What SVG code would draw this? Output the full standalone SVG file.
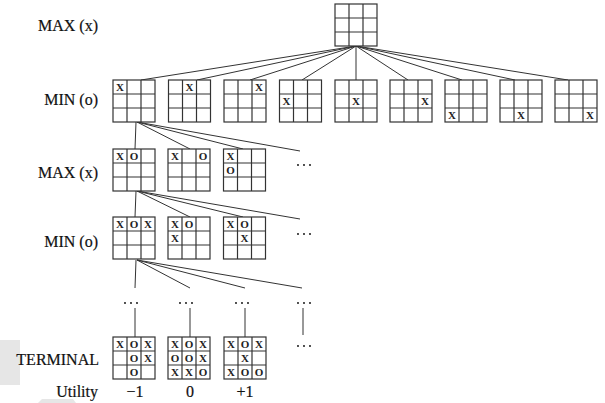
<svg xmlns="http://www.w3.org/2000/svg" xmlns:xlink="http://www.w3.org/1999/xlink" width="605" height="403" viewBox="0 0 605 403">
<style>
.lbl{font-family:"Liberation Serif","Times New Roman",serif;font-size:16px;fill:#111;stroke:#111;stroke-width:0.2;text-anchor:end}
.val{font-family:"Liberation Serif","Times New Roman",serif;font-size:16px;fill:#111;stroke:#111;stroke-width:0.2;text-anchor:middle}
.m{font-family:"Liberation Serif","Times New Roman",serif;font-size:11px;font-weight:bold;fill:#222;text-anchor:middle}
.dots circle{fill:#a8a8a8}
.c line{stroke:#333;stroke-width:1}
.g rect{fill:#fff;stroke:#333;stroke-width:1.2}
.g line{stroke:#333;stroke-width:1.2}
</style>
<defs>
<g id="grid" class="g">
<rect x="0" y="0" width="42" height="42"/>
<line x1="14" y1="0" x2="14" y2="42"/><line x1="28" y1="0" x2="28" y2="42"/>
<line x1="0" y1="14" x2="42" y2="14"/><line x1="0" y1="28" x2="42" y2="28"/>
</g>
<g id="d3"><circle cx="-6" cy="0" r="0.9"/><circle cx="0" cy="0" r="0.9"/><circle cx="6" cy="0" r="0.9"/></g>
</defs>
<rect width="605" height="403" fill="#fff"/>
<rect x="0" y="340" width="20" height="45" fill="#e6e6e6"/>
<polygon points="38,403 42,399 73,399 76,403" fill="#e6e6e6"/>
<g id="labels">
<text class="lbl" x="98" y="31">MAX (x)</text>
<text class="lbl" x="98" y="105">MIN (o)</text>
<text class="lbl" x="98" y="178">MAX (x)</text>
<text class="lbl" x="98" y="247">MIN (o)</text>
<text class="lbl" x="99" y="365">TERMINAL</text>
<text class="lbl" x="98" y="397">Utility</text>
<text class="val" x="135" y="397">−1</text>
<text class="val" x="190" y="397">0</text>
<text class="val" x="245" y="397">+1</text>
</g>
<g id="connectors" class="c">
<line x1="356" y1="46" x2="141" y2="80"/>
<line x1="356" y1="46" x2="197" y2="80"/>
<line x1="356" y1="46" x2="250" y2="80"/>
<line x1="356" y1="46" x2="302" y2="80"/>
<line x1="356" y1="46" x2="356" y2="80"/>
<line x1="356" y1="46" x2="408" y2="80"/>
<line x1="356" y1="46" x2="462" y2="80"/>
<line x1="356" y1="46" x2="515" y2="80"/>
<line x1="356" y1="46" x2="568" y2="80"/>
<line x1="136" y1="122" x2="135" y2="149"/>
<line x1="137" y1="122" x2="190" y2="149"/>
<line x1="137" y1="122" x2="243" y2="149"/>
<line x1="137" y1="122" x2="300" y2="151"/>
<line x1="136" y1="191" x2="135" y2="217"/>
<line x1="137" y1="191" x2="190" y2="217"/>
<line x1="137" y1="191" x2="243" y2="217"/>
<line x1="137" y1="191" x2="300" y2="219"/>
<line x1="136" y1="260" x2="135" y2="288"/>
<line x1="137" y1="260" x2="190" y2="288"/>
<line x1="137" y1="260" x2="245" y2="288"/>
<line x1="137" y1="260" x2="302" y2="288"/>
<line x1="135" y1="308" x2="135" y2="337"/>
<line x1="190" y1="308" x2="190" y2="337"/>
<line x1="245" y1="308" x2="245" y2="337"/>
<line x1="303" y1="308" x2="303" y2="335"/>
</g>
<g id="dots" class="dots">
<use xlink:href="#d3" x="304" y="165"/>
<use xlink:href="#d3" x="304" y="234"/>
<use xlink:href="#d3" x="131" y="303"/>
<use xlink:href="#d3" x="186" y="303"/>
<use xlink:href="#d3" x="242" y="303"/>
<use xlink:href="#d3" x="304" y="303"/>
<use xlink:href="#d3" x="304" y="346"/>
</g>
<g id="root" transform="translate(335,4)"><use xlink:href="#grid"/></g>
<g id="min1" transform="translate(113,80)"><use xlink:href="#grid"/><text class="m" x="7" y="11">X</text></g>
<g id="min2" transform="translate(168.5,80)"><use xlink:href="#grid"/><text class="m" x="21" y="11">X</text></g>
<g id="min3" transform="translate(224,80)"><use xlink:href="#grid"/><text class="m" x="35" y="11">X</text></g>
<g id="min4" transform="translate(279.5,80)"><use xlink:href="#grid"/><text class="m" x="7" y="25">X</text></g>
<g id="min5" transform="translate(335,80)"><use xlink:href="#grid"/><text class="m" x="21" y="25">X</text></g>
<g id="min6" transform="translate(390,80)"><use xlink:href="#grid"/><text class="m" x="35" y="25">X</text></g>
<g id="min7" transform="translate(445,80)"><use xlink:href="#grid"/><text class="m" x="7" y="39">X</text></g>
<g id="min8" transform="translate(500,80)"><use xlink:href="#grid"/><text class="m" x="21" y="39">X</text></g>
<g id="min9" transform="translate(555,80)"><use xlink:href="#grid"/><text class="m" x="35" y="39">X</text></g>
<g id="max1" transform="translate(113,149)"><use xlink:href="#grid"/><text class="m" x="7" y="11">X</text><text class="m" x="21" y="11">O</text></g>
<g id="max2" transform="translate(168,149)"><use xlink:href="#grid"/><text class="m" x="7" y="11">X</text><text class="m" x="35" y="11">O</text></g>
<g id="max3" transform="translate(223.5,149)"><use xlink:href="#grid"/><text class="m" x="7" y="11">X</text><text class="m" x="7" y="25">O</text></g>
<g id="minb1" transform="translate(113,217)"><use xlink:href="#grid"/><text class="m" x="7" y="11">X</text><text class="m" x="21" y="11">O</text><text class="m" x="35" y="11">X</text></g>
<g id="minb2" transform="translate(168,217)"><use xlink:href="#grid"/><text class="m" x="7" y="11">X</text><text class="m" x="21" y="11">O</text><text class="m" x="7" y="25">X</text></g>
<g id="minb3" transform="translate(223.5,217)"><use xlink:href="#grid"/><text class="m" x="7" y="11">X</text><text class="m" x="21" y="11">O</text><text class="m" x="21" y="25">X</text></g>
<g id="term1" transform="translate(113,337)"><use xlink:href="#grid"/><text class="m" x="7" y="11">X</text><text class="m" x="21" y="11">O</text><text class="m" x="35" y="11">X</text><text class="m" x="21" y="25">O</text><text class="m" x="35" y="25">X</text><text class="m" x="21" y="39">O</text></g>
<g id="term2" transform="translate(168,337)"><use xlink:href="#grid"/><text class="m" x="7" y="11">X</text><text class="m" x="21" y="11">O</text><text class="m" x="35" y="11">X</text><text class="m" x="7" y="25">O</text><text class="m" x="21" y="25">O</text><text class="m" x="35" y="25">X</text><text class="m" x="7" y="39">X</text><text class="m" x="21" y="39">X</text><text class="m" x="35" y="39">O</text></g>
<g id="term3" transform="translate(224,337)"><use xlink:href="#grid"/><text class="m" x="7" y="11">X</text><text class="m" x="21" y="11">O</text><text class="m" x="35" y="11">X</text><text class="m" x="21" y="25">X</text><text class="m" x="7" y="39">X</text><text class="m" x="21" y="39">O</text><text class="m" x="35" y="39">O</text></g>
</svg>
